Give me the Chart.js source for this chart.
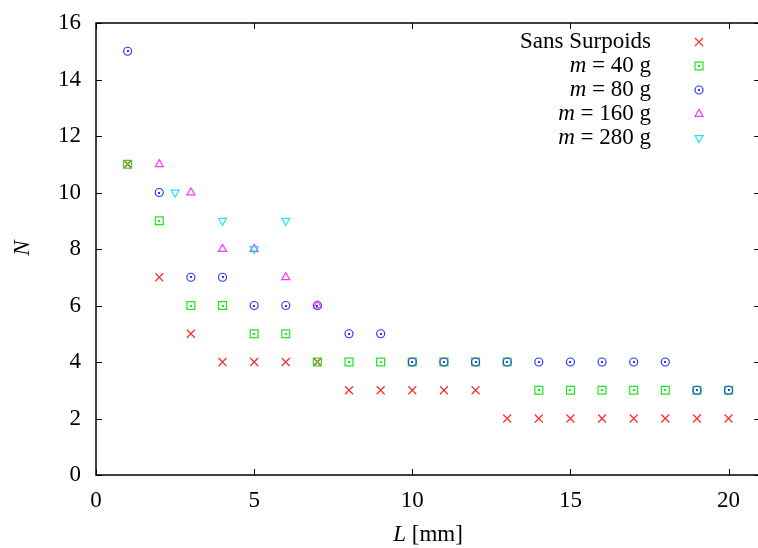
<!DOCTYPE html>
<html>
<head>
<meta charset="utf-8">
<script src="https://cdn.jsdelivr.net/npm/chart.js@4"></script>
<style>
  html, body { margin: 0; padding: 0; background: #fff; overflow: hidden; }
  #wrap { width: 758px; height: 548px; overflow: hidden; }
</style>
</head>
<body>
<div id="wrap"><canvas id="c" width="767" height="548"></canvas></div>
<script>
// données
const L = [1, 2, 3, 4, 5, 6, 7, 8, 9, 10, 11, 12, 13, 14, 15, 16, 17, 18, 19, 20];
const sansSurpoids = [11, 7, 5, 4, 4, 4, 4, 3, 3, 3, 3, 3, 2, 2, 2, 2, 2, 2, 2, 2];
const m40 = [11, 9, 6, 6, 5, 5, 4, 4, 4, 4, 4, 4, 4, 3, 3, 3, 3, 3, 3, 3];
const m80 = [15, 10, 7, 7, 6, 6, 6, 5, 5, 4, 4, 4, 4, 4, 4, 4, 4, 4, 3, 3];
const L160 = [2, 3, 4, 5, 6, 7];
const m160 = [11, 10, 8, 8, 7, 6];
const L280 = [2.5, 4, 5, 6];
const m280 = [10, 9, 8, 9];

const xTicks = [0, 5, 10, 15, 20];
const yTicks = [0, 2, 4, 6, 8, 10, 12, 14, 16];

const FONT = '"Liberation Serif", "Times New Roman", serif';

function pts(xs, ys) {
    return xs.map((x, i) => ({ x: x, y: ys[i] }));
}

const datasets = [
    { label: 'Sans Surpoids', data: pts(L, sansSurpoids), pointStyle: 'crossRot', pointRadius: 5.6, borderColor: '#ff2a2a', order: 5 },
    { label: 'm = 40 g', data: pts(L, m40), pointStyle: 'rect', pointRadius: 5.6, borderColor: '#1ee61e', order: 4, dot: true },
    { label: 'm = 80 g', data: pts(L, m80), pointStyle: 'circle', pointRadius: 4, borderColor: '#2a3cff', order: 3, dot: true },
    { label: 'm = 160 g', data: pts(L160, m160), pointStyle: 'triangle', pointRadius: 4.6, borderColor: '#ff33ff', order: 2 },
    { label: 'm = 280 g', data: pts(L280, m280), pointStyle: 'triangle', rotation: 180, pointRadius: 4.6, borderColor: '#1ee6f0', order: 1 }
];
datasets.forEach(d => {
    d.backgroundColor = 'rgba(0,0,0,0)';
    d.pointBorderWidth = 1.2;
    d.showLine = false;
});

// petit point au centre des carrés et des cercles
const centerDots = {
    id: 'centerDots',
    afterDatasetDraw(chart, args) {
        const ds = chart.data.datasets[args.index];
        if (!ds.dot) return;
        const ctx = chart.ctx;
        ctx.save();
        ctx.fillStyle = ds.borderColor;
        args.meta.data.forEach(p => ctx.fillRect(Math.round(p.x) - 1, Math.round(p.y) - 1, 2, 2));
        ctx.restore();
    }
};

// cadre + graduations vers l'intérieur (style gnuplot)
const frame = {
    id: 'frame',
    afterDraw(chart) {
        const ctx = chart.ctx, a = chart.chartArea;
        const xs = chart.scales.x, ys = chart.scales.y;
        const tl = 6;
        ctx.save();
        ctx.strokeStyle = '#000';
        ctx.lineWidth = 1.5;
        ctx.strokeRect(a.left, a.top, a.right - a.left, a.bottom - a.top);
        ctx.lineWidth = 1;
        ctx.beginPath();
        xTicks.forEach(v => {
            const px = Math.round(xs.getPixelForValue(v)) + 0.5;
            ctx.moveTo(px, a.bottom); ctx.lineTo(px, a.bottom - tl);
            ctx.moveTo(px, a.top); ctx.lineTo(px, a.top + tl);
        });
        yTicks.forEach(v => {
            const py = Math.round(ys.getPixelForValue(v)) + 0.5;
            ctx.moveTo(a.left, py); ctx.lineTo(a.left + tl, py);
            ctx.moveTo(a.right, py); ctx.lineTo(a.right - tl, py);
        });
        ctx.stroke();

        // titres des axes
        ctx.fillStyle = '#000';
        ctx.textBaseline = 'middle';
        ctx.font = 'italic 23px ' + FONT;
        const wL = ctx.measureText('L').width;
        ctx.font = '23px ' + FONT;
        const wRest = ctx.measureText(' [mm]').width;
        const x0 = 428 - (wL + wRest) / 2;
        ctx.textAlign = 'left';
        ctx.font = 'italic 23px ' + FONT;
        ctx.fillText('L', x0, 535);
        ctx.font = '23px ' + FONT;
        ctx.fillText(' [mm]', x0 + wL, 535);

        ctx.save();
        ctx.translate(23, 248);
        ctx.rotate(-Math.PI / 2);
        ctx.textAlign = 'center';
        ctx.font = 'italic 23px ' + FONT;
        ctx.fillText('N', 0, 0);
        ctx.restore();

        // légende
        const rowY = [42, 66, 90, 114, 138];
        const textRight = 651, markX = 699;
        chart.data.datasets.forEach((ds, i) => {
            const y = rowY[i];
            ctx.textAlign = 'left';
            ctx.fillStyle = '#000';
            if (i === 0) {
                ctx.font = '23px ' + FONT;
                const w = ctx.measureText(ds.label).width;
                ctx.fillText(ds.label, textRight - w, y);
            } else {
                ctx.font = 'italic 23px ' + FONT;
                const wm = ctx.measureText('m').width;
                ctx.font = '23px ' + FONT;
                const rest = ds.label.slice(1);
                const wr = ctx.measureText(rest).width;
                ctx.font = 'italic 23px ' + FONT;
                ctx.fillText('m', textRight - wr - wm, y);
                ctx.font = '23px ' + FONT;
                ctx.fillText(rest, textRight - wr, y);
            }
            ctx.strokeStyle = ds.borderColor;
            ctx.fillStyle = 'rgba(0,0,0,0)';
            ctx.lineWidth = ds.pointBorderWidth;
            Chart.helpers.drawPoint(ctx, { pointStyle: ds.pointStyle, rotation: ds.rotation || 0, radius: ds.pointRadius, borderWidth: ds.pointBorderWidth }, markX, y);
            if (ds.dot) {
                ctx.fillStyle = ds.borderColor;
                ctx.fillRect(markX - 1, y - 1, 2, 2);
            }
        });
        ctx.restore();
    }
};

new Chart(document.getElementById('c'), {
    type: 'scatter',
    data: { datasets: datasets },
    options: {
        responsive: false,
        animation: false,
        layout: { padding: { top: 23, right: 1, left: 0, bottom: 0 } },
        plugins: { legend: { display: false }, tooltip: { enabled: false } },
        scales: {
            x: {
                type: 'linear', min: 0, max: 21,
                afterBuildTicks: s => { s.ticks = xTicks.map(v => ({ value: v })); },
                afterFit: s => { s.height = 73; },
                grid: { display: false, drawTicks: false },
                border: { display: false },
                ticks: { color: '#000', padding: 12, font: { family: FONT, size: 23 }, maxRotation: 0 }
            },
            y: {
                type: 'linear', min: 0, max: 16,
                afterBuildTicks: s => { s.ticks = yTicks.map(v => ({ value: v })); },
                afterFit: s => { s.width = 96; },
                grid: { display: false, drawTicks: false },
                border: { display: false },
                ticks: { color: '#000', padding: 15, font: { family: FONT, size: 23, lineHeight: 0.4 } }
            }
        }
    },
    plugins: [centerDots, frame]
});
</script>
</body>
</html>
